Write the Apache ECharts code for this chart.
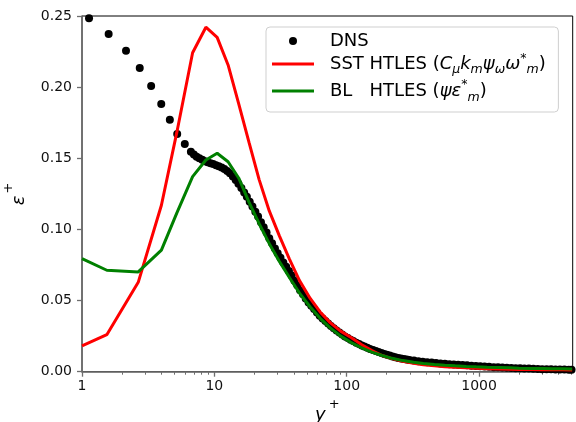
<!DOCTYPE html>
<html>
<head>
<meta charset="utf-8">
<script src="https://cdn.jsdelivr.net/npm/echarts@6/dist/echarts.min.js"></script>
<style>html,body{margin:0;padding:0;background:#fff}#c{width:576px;height:422px}</style>
</head>
<body>
<div id="c"></div>
<script>
const dnsYplus = [1.13,1.59,2.15,2.73,3.33,3.97,4.61,5.24,5.98,6.65,
7.0,7.35,7.7,8.1,8.5,8.9,9.35,9.8,10.3,10.8,
11.35,11.9,12.5,13.1,13.8,14.5,15.2,16,16.8,17.6,
18.5,19.4,20.4,21.4,22.5,23.6,24.8,26,27.3,28.7,
30.1,31.6,33.2,34.9,36.6,38.4,40.3,42.3,44.4,46.7,
49,51.5,54,56.7,59.6,62.5,65.7,69,72.4,76,
79.8,83.8,88,92.4,97,102,107,112,118,124,
130,136,143,150,158,166,174,183,192,201,
211,222,233,245,257,270,284,298,322,348,
375,405,438,473,511,552,596,644,695,751,
811,876,946,1020,1100,1190,1290,1390,1500,1620,
1750,1890,2040,2200,2380,2570,2780,3000,3240,3500,
3780,4080,4410,4760,5000];
const dnsEps = [.2484,.2373,.2256,.2134,.2008,.1881,.1771,.1671,.1600,.1546,
.1527,.1511,.1500,.1489,.1480,.1472,.1465,.1459,.1451,.1444,
.1435,.1425,.1411,.1394,.1372,.1347,.1321,.1291,.1260,.1229,
.1195,.1161,.1125,.1090,.1051,.1015,.0978,.0938,.0902,.0866,
.0833,.0801,.0768,.0737,.0707,.0676,.0640,.0608,.0572,.0544,
.0514,.0487,.0463,.0440,.0416,.0394,.0374,.0356,.0338,.0321,
.0305,.0289,.0275,.0261,.0248,.0236,.0225,.0215,.0204,.0194,
.0185,.0177,.0168,.0160,.0153,.0146,.0139,.0132,.0125,.0119,
.0113,.0107,.0102,.0097,.0093,.0089,.0085,.0082,.0078,.0074,
.0070,.0067,.0064,.0061,.0058,.0056,.0053,.0051,.0049,.0047,
.0045,.0042,.0040,.0038,.0036,.0034,.0032,.0031,.0029,.0028,
.0026,.0025,.0024,.0023,.0022,.0020,.0019,.0018,.0018,.0017,
.0016,.0015,.0015,.0014,.0013];
const lesYplus = [1.0,1.54,2.66,3.98,5.2,6.85,8.63,10.5,12.7,15.3,18.3,21.8,26,31,37,44,53,63,75,90,108,130,155,185,220,265,320,380,460,550,660,800,950,1150,1400,1700,2000,2500,3000,3600,4300,5050];
const sstEps = [.0181,.0260,.0628,.117,.168,.2242,.2421,.235,.2156,.188,.161,.135,.113,.0955,.079,.0640,.0515,.0420,.0345,.0285,.0240,.0190,.0148,.0114,.0092,.0074,.0060,.0049,.0041,.0035,.0031,.0027,.0024,.0021,.0019,.0017,.0016,.0015,.0014,.0013,.0013,.0012];
const blEps = [.0794,.0713,.0701,.0855,.1115,.1371,.1488,.1535,.1476,.1360,.1190,.1040,.0900,.0775,.0660,.0552,.0455,.0375,.0308,.0250,.0205,.0168,.0138,.0114,.0094,.0078,.0066,.0057,.0050,.0045,.0041,.0037,.0034,.0031,.0029,.0027,.0025,.0023,.0022,.0021,.0020,.0019];
const xMajorTicks = [1,10,100,1000];
const xMinorTicks = [2,3,4,5,6,7,8,9,20,30,40,50,60,70,80,90,200,300,400,500,600,700,800,900,2000,3000,4000,5000];
const yTicks = [0,0.05,0.10,0.15,0.20,0.25];

const zip = (a,b) => a.map((v,i) => [v, b[i]]);
const FF = 'DejaVu Sans';
const chart = echarts.init(document.getElementById('c'), null, {renderer:'canvas'});
const axisGray = '#6e6e6e';
const LF = 18, SF = 12.5;
const legendRich = {
  sp:{width:11},
  tail:{width:18},
  n18:{fontFamily:FF,fontSize:LF,lineHeight:18,color:'#000'},
  n:{fontFamily:FF,fontSize:LF,lineHeight:24,color:'#000'},
  i:{fontFamily:FF,fontSize:LF,lineHeight:24,fontStyle:'italic',color:'#000'},
  n26:{fontFamily:FF,fontSize:LF,lineHeight:26,color:'#000'},
  i26:{fontFamily:FF,fontSize:LF,lineHeight:26,fontStyle:'italic',color:'#000'},
  sub:{fontFamily:FF,fontSize:SF,lineHeight:11,fontStyle:'italic',verticalAlign:'bottom',color:'#000'},
  sup:{fontFamily:FF,fontSize:SF,lineHeight:11,verticalAlign:'top',color:'#000'}
};
const legendText = {
  'DNS':'{sp| }{n18|DNS}',
  'SST':'{sp| }{n|SST HTLES (}{i|C}{sub|μ}{i|k}{sub|m}{i|ψ}{sub|ω}{i|ω}{sup|*}{sub|m}{n|)}{tail| }',
  'BL':'{sp| }{n26|BL   HTLES (}{i26|ψε}{sup|*}{sub|m}{n26|)}'
};
const lineIcon = 'path://M0 0H42V3H0Z';
chart.setOption({
  animation:false,
  grid:{left:82,right:3.3,top:16,bottom:50.3,show:true,borderColor:'#000',borderWidth:1,backgroundColor:'transparent',outerBoundsMode:'none',containLabel:false},
  legend:{
    left:266, top:27, orient:'vertical', itemWidth:42, itemHeight:8, itemGap:2,
    padding:[5,7,8,6], borderColor:'#cfcfcf', borderWidth:1, borderRadius:4,
    backgroundColor:'rgba(255,255,255,0.8)', symbolKeepAspect:true,
    data:[{name:'DNS',icon:'circle'},{name:'SST',icon:lineIcon},{name:'BL',icon:lineIcon}],
    formatter: n => legendText[n],
    textStyle:{fontFamily:FF,fontSize:LF,color:'#000',rich:legendRich}
  },
  xAxis:[{
    type:'log', logBase:10, min:1, max:5100, position:'bottom',
    axisLine:{show:true,lineStyle:{color:axisGray,width:1.6}},
    axisTick:{show:true,customValues:xMajorTicks,length:5,lineStyle:{color:axisGray,width:1.3}},
    axisLabel:{customValues:xMajorTicks,formatter:v=>String(Math.round(v)),margin:8,fontSize:14,fontFamily:FF,color:'#111'},
    splitLine:{show:false},
    name:'{i|y}{s|+}', nameLocation:'middle', nameGap:17,
    nameTextStyle:{rich:{
      i:{fontFamily:FF,fontSize:18,fontStyle:'italic',lineHeight:26,verticalAlign:'bottom',color:'#000'},
      s:{fontFamily:FF,fontSize:13,lineHeight:13,verticalAlign:'top',padding:[0,0,0,3],color:'#000'}
    }}
  },{
    type:'log', logBase:10, min:1, max:5100, position:'bottom',
    axisLine:{show:false},
    axisTick:{show:true,customValues:xMinorTicks,length:3,lineStyle:{color:axisGray,width:1}},
    axisLabel:{show:false}, splitLine:{show:false}
  }],
  yAxis:{
    type:'value', min:0, max:0.25, interval:0.05,
    axisLine:{show:true,lineStyle:{color:axisGray,width:1.6}},
    axisTick:{show:true,length:5,lineStyle:{color:axisGray,width:1.3}},
    axisLabel:{formatter:v=>v.toFixed(2),margin:10,fontSize:14,fontFamily:FF,color:'#111'},
    splitLine:{show:false},
    name:'{e|ε}{s|+}', nameLocation:'middle', nameRotate:90, nameGap:54,
    nameTextStyle:{rich:{
      e:{fontFamily:FF,fontSize:18,fontStyle:'italic',lineHeight:26,verticalAlign:'bottom',color:'#000'},
      s:{fontFamily:FF,fontSize:13,lineHeight:13,verticalAlign:'top',padding:[0,0,0,2],color:'#000'}
    }}
  },
  series:[
    {name:'DNS',type:'scatter',data:zip(dnsYplus,dnsEps),symbol:'circle',symbolSize:8,itemStyle:{color:'#000',opacity:1},z:2},
    {name:'SST',type:'line',data:zip(lesYplus,sstEps),symbol:'none',lineStyle:{color:'#ff0000',width:3},itemStyle:{color:'#ff0000'},z:3},
    {name:'BL',type:'line',data:zip(lesYplus,blEps),symbol:'none',lineStyle:{color:'#008000',width:3},itemStyle:{color:'#008000'},z:4}
  ]
});
</script>
</body>
</html>
